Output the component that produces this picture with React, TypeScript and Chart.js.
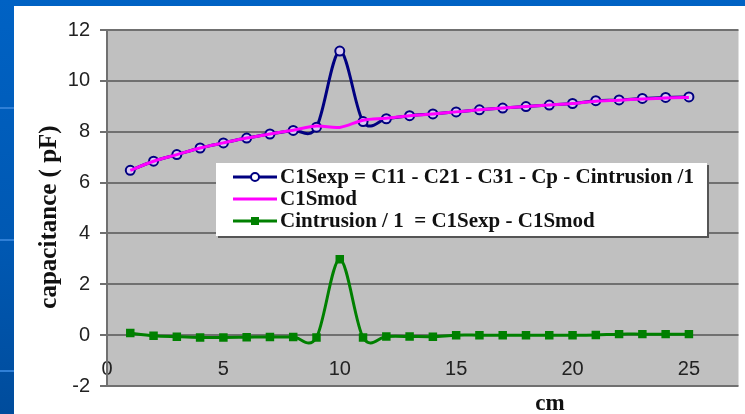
import React, { useEffect, useRef } from "react";
import { Chart, registerables } from "chart.js";

Chart.register(...registerables);

// ---- data ----
const positionsCm = [1, 2, 3, 4, 5, 6, 7, 8, 9, 10, 11, 12, 13, 14, 15, 16, 17, 18, 19, 20, 21, 22, 23, 24, 25];
const c1sExp = [6.48, 6.84, 7.1, 7.36, 7.56, 7.75, 7.91, 8.05, 8.18, 11.17, 8.4, 8.51, 8.63, 8.7, 8.78, 8.86, 8.93, 8.99, 9.05, 9.11, 9.22, 9.25, 9.31, 9.35, 9.37];
const c1sMod = [6.48, 6.84, 7.1, 7.36, 7.56, 7.75, 7.91, 8.06, 8.22, 8.17, 8.45, 8.53, 8.63, 8.7, 8.78, 8.86, 8.93, 8.99, 9.05, 9.11, 9.2, 9.24, 9.29, 9.33, 9.35];
const cIntrusion = [0.08, -0.02, -0.06, -0.09, -0.09, -0.08, -0.07, -0.07, -0.09, 2.98, -0.09, -0.05, -0.05, -0.06, 0, 0, 0, 0, 0, 0, 0.01, 0.04, 0.04, 0.04, 0.04];
const seriesLabels = [
  "C1Sexp = C11 - C21 - C31 - Cp - Cintrusion /1",
  "C1Smod",
  "Cintrusion / 1  = C1Sexp - C1Smod",
];
const yAxisTitle = "capacitance ( pF)";
const xAxisTitle = "cm";
const yMin = -2;
const yMax = 12;
const yStep = 2;
const xMin = 0;
const xMax = 27.13;
const xStep = 5;

const BLUE = "#000080";
const MAGENTA = "#ff00ff";
const GREEN = "#008000";
const GRID = "#707070";

const toPoints = (ys: number[]) => ys.map((y, i) => ({ x: positionsCm[i], y }));

// Excel-like uniform Catmull-Rom smoothing for the line paths
const smoothPlugin = {
  id: "excelSmooth",
  beforeDatasetDraw(chart: any, args: any) {
    const line = args.meta && args.meta.dataset;
    if (!line || !line.points || !line.options || !line.options.tension) return;
    if (typeof line.updateControlPoints === "function") line.updateControlPoints(chart.chartArea);
    const pts = line.points;
    for (let i = 0; i < pts.length; i++) {
      const p = pts[i];
      const prev = pts[i - 1] || p;
      const next = pts[i + 1] || p;
      const dx = (next.x - prev.x) / 6;
      const dy = (next.y - prev.y) / 6;
      p.cp1x = p.x - dx;
      p.cp1y = p.y - dy;
      p.cp2x = p.x + dx;
      p.cp2y = p.y + dy;
    }
    line._pointsUpdated = true;
    line._path = undefined;
  },
};

const overlayPlugin = {
  id: "overlay",
  beforeDraw(chart: any) {
    const { ctx, chartArea } = chart;
    const { left, top, right, bottom } = chartArea;
    ctx.save();
    ctx.fillStyle = "#c0c0c0";
    ctx.fillRect(left, top, right - left, bottom - top);
    ctx.restore();
  },
  afterDraw(chart: any) {
    const { ctx } = chart;
    ctx.save();
    // axis titles
    ctx.fillStyle = "#111";
    ctx.textAlign = "center";
    ctx.textBaseline = "middle";
    ctx.font = "bold 25px 'Liberation Serif'";
    ctx.save();
    ctx.translate(36, 211);
    ctx.rotate(-Math.PI / 2);
    ctx.fillText(yAxisTitle, 0, 0);
    ctx.restore();
    ctx.font = "bold 23px 'Liberation Serif'";
    ctx.fillText(xAxisTitle, 536, 398);

    // legend box
    const bx = 202, by = 157, bw = 491, bh = 73;
    ctx.fillStyle = "#555";
    ctx.fillRect(bx + 2, by + 2, bw, bh);
    ctx.fillStyle = "#fff";
    ctx.fillRect(bx, by, bw, bh);
    const rows = [171, 193, 215];
    const colors = [BLUE, MAGENTA, GREEN];
    rows.forEach((ry, i) => {
      ctx.strokeStyle = colors[i];
      ctx.lineWidth = 3;
      ctx.beginPath();
      ctx.moveTo(219, ry);
      ctx.lineTo(263, ry);
      ctx.stroke();
      if (i === 0) {
        ctx.beginPath();
        ctx.arc(241, ry, 4, 0, Math.PI * 2);
        ctx.fillStyle = "#fff";
        ctx.fill();
        ctx.lineWidth = 2;
        ctx.stroke();
      } else if (i === 2) {
        ctx.fillStyle = GREEN;
        ctx.fillRect(237, ry - 4, 8, 8);
      }
      ctx.fillStyle = "#111";
      ctx.textAlign = "left";
      ctx.textBaseline = "middle";
      ctx.font = "bold 21px 'Liberation Serif'";
      ctx.fillText(seriesLabels[i], 266, ry + 1);
    });
    ctx.restore();
  },
};

export default function App() {
  const ref = useRef<HTMLCanvasElement | null>(null);

  useEffect(() => {
    if (!ref.current) return;
    const chart = new Chart(ref.current, {
      type: "line",
      data: {
        datasets: [
          {
            label: seriesLabels[0],
            data: toPoints(c1sExp),
            borderColor: BLUE,
            borderWidth: 3,
            tension: 0.4,
            pointStyle: "circle",
            pointRadius: 4.5,
            pointBorderWidth: 2,
            pointBorderColor: BLUE,
            pointBackgroundColor: "#d8c8f0",
            order: 2,
          },
          {
            label: seriesLabels[1],
            data: toPoints(c1sMod),
            borderColor: MAGENTA,
            borderWidth: 3,
            tension: 0.4,
            pointRadius: 0,
            order: 1,
          },
          {
            label: seriesLabels[2],
            data: toPoints(cIntrusion),
            borderColor: GREEN,
            borderWidth: 3,
            tension: 0.4,
            pointStyle: "rect",
            pointRadius: 6,
            pointBorderWidth: 0,
            pointBackgroundColor: GREEN,
            order: 0,
          },
        ],
      },
      options: {
        responsive: false,
        animation: false,
        events: [],
        layout: { padding: { left: 0, right: 0, top: 24, bottom: 0 } },
        plugins: {
          legend: { display: false },
          tooltip: { enabled: false },
        },
        scales: {
          x: {
            type: "linear",
            min: xMin,
            max: xMax,
            grid: { display: false, drawTicks: false },
            border: { display: false },
            ticks: {
              stepSize: xStep,
              includeBounds: false,
              mirror: true,
              padding: 5,
              color: "#222",
              font: { family: "'Liberation Sans'", size: 20 },
              maxRotation: 0,
              autoSkip: false,
            },
            afterFit: (s: any) => {
              s.height = 28;
            },
          },
          y: {
            type: "linear",
            min: yMin,
            max: yMax,
            grid: { color: GRID, lineWidth: 2, tickLength: 7 },
            border: { display: true, color: GRID, width: 2 },
            ticks: {
              stepSize: yStep,
              padding: 10,
              color: "#222",
              font: { family: "'Liberation Sans'", size: 20 },
            },
            afterFit: (s: any) => {
              s.width = 93;
            },
          },
        },
      },
      plugins: [smoothPlugin, overlayPlugin],
    });
    return () => chart.destroy();
  }, []);

  const stripeLine = (top: number) => (
    <div style={{ position: "absolute", left: 0, top, width: 14, height: 2, background: "#2f7fd6" }} />
  );

  return (
    <div
      style={{
        position: "absolute",
        left: 0,
        top: 0,
        width: 745,
        height: 414,
        overflow: "hidden",
        background: "linear-gradient(180deg, #0062c4 0%, #0058b2 60%, #004c9c 100%)",
      }}
    >
      {stripeLine(107)}
      {stripeLine(239)}
      {stripeLine(370)}
      <div style={{ position: "absolute", left: 14, top: 6, width: 731, height: 408, background: "#fff" }}>
        <canvas ref={ref} width={731} height={408} style={{ display: "block" }} />
      </div>
    </div>
  );
}
